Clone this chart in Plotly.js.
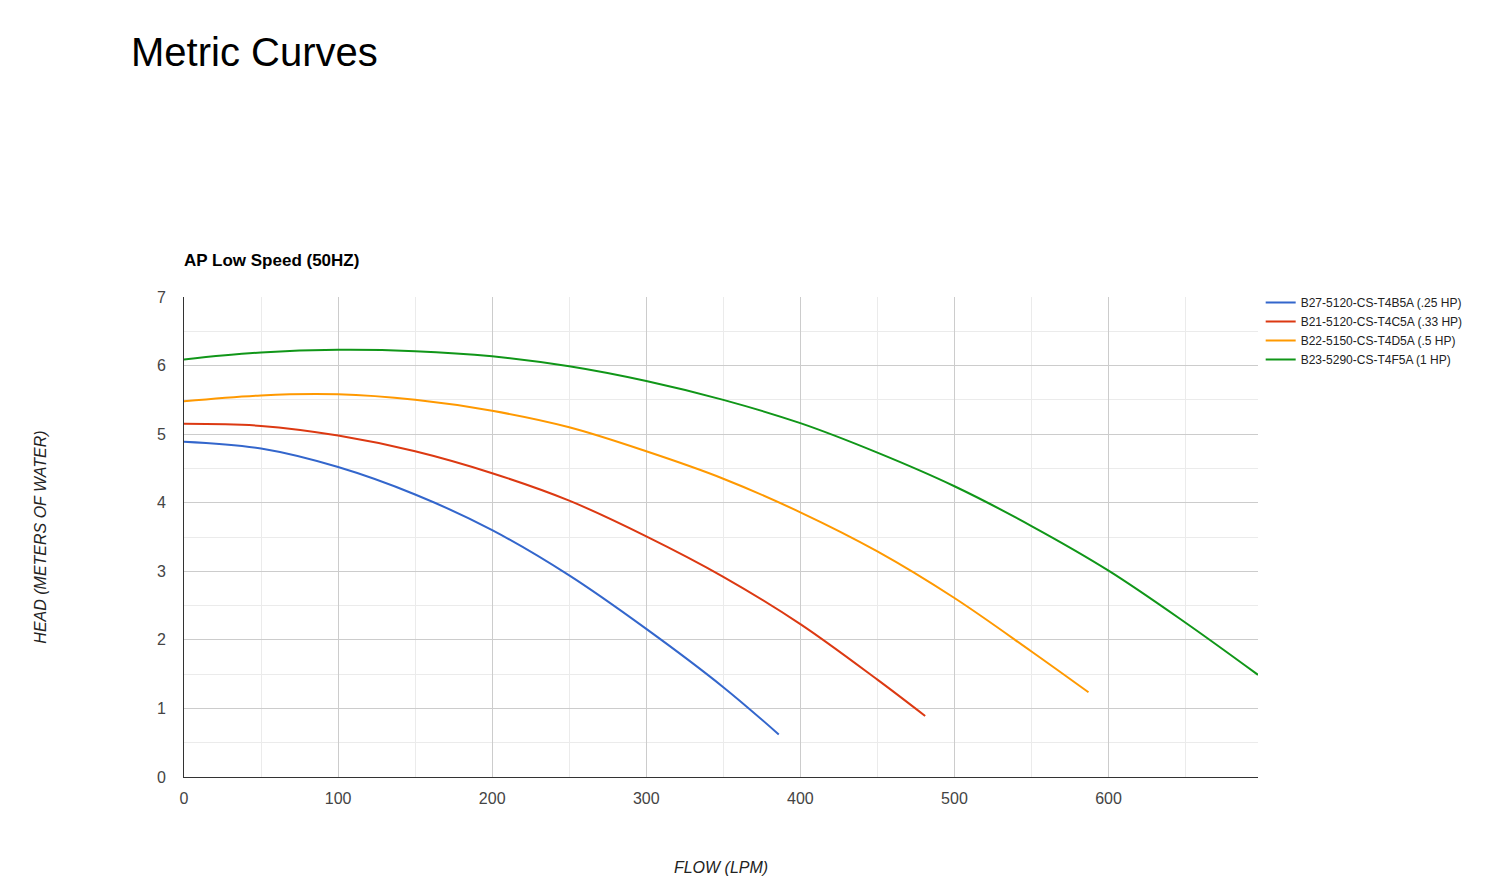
<!DOCTYPE html>
<html>
<head>
<meta charset="utf-8">
<script src="https://cdn.plot.ly/plotly-3.0.1.min.js"></script>
<style>html,body{margin:0;padding:0;background:#fff;}#chart{width:1492px;height:892px;}</style>
</head>
<body>
<div id="chart"></div>
<script>
const seriesNames = [
  "B27-5120-CS-T4B5A (.25 HP)",
  "B21-5120-CS-T4C5A (.33 HP)",
  "B22-5150-CS-T4D5A (.5 HP)",
  "B23-5290-CS-T4F5A (1 HP)"
];
const seriesColors = ["#3366cc", "#dc3912", "#ff9900", "#109618"];

const flowBlue   = [0, 50, 100, 150, 200, 250, 300, 350, 386];
const headBlue   = [4.89, 4.79, 4.52, 4.12, 3.60, 2.94, 2.16, 1.31, 0.62];

const flowRed    = [0, 50, 100, 150, 200, 250, 300, 350, 400, 450, 481];
const headRed    = [5.15, 5.12, 4.98, 4.75, 4.43, 4.03, 3.51, 2.92, 2.23, 1.42, 0.89];

const flowOrange = [0, 50, 100, 150, 200, 250, 300, 350, 400, 450, 500, 550, 587];
const headOrange = [5.48, 5.565, 5.58, 5.50, 5.34, 5.10, 4.75, 4.35, 3.86, 3.29, 2.61, 1.83, 1.235];

const flowGreen  = [0, 50, 100, 150, 200, 250, 300, 350, 400, 450, 500, 550, 600, 650, 697];
const headGreen  = [6.09, 6.19, 6.23, 6.21, 6.135, 5.99, 5.775, 5.50, 5.16, 4.73, 4.24, 3.66, 3.01, 2.25, 1.49];

const xTicks = [0, 100, 200, 300, 400, 500, 600];
const yTicks = [0, 1, 2, 3, 4, 5, 6, 7];

const flows = [flowBlue, flowRed, flowOrange, flowGreen];
const heads = [headBlue, headRed, headOrange, headGreen];

const FONT = "'Liberation Sans', Arial, sans-serif";

const traces = flows.map((f, i) => ({
  x: f, y: heads[i], name: seriesNames[i],
  type: "scatter", mode: "lines",
  line: {color: seriesColors[i], width: 2, shape: "spline", smoothing: 1},
  hoverinfo: "x+y+name"
}));

const layout = {
  width: 1492, height: 892,
  paper_bgcolor: "#ffffff", plot_bgcolor: "#ffffff",
  margin: {l: 184, r: 234, t: 297, b: 115, pad: 0},
  font: {family: FONT, color: "#222"},
  title: {
    text: "Metric Curves",
    font: {family: FONT, size: 40, color: "#000"},
    x: 131 / 1492, xref: "container", xanchor: "left",
    y: 1 - 52 / 892, yref: "container", yanchor: "middle"
  },
  showlegend: true,
  legend: {
    x: 1.0025, xanchor: "left", y: 1.019, yanchor: "top",
    font: {family: FONT, size: 12, color: "#222"},
    bgcolor: "rgba(0,0,0,0)", borderwidth: 0,
    tracegroupgap: 0, itemwidth: 30
  },
  xaxis: {
    range: [0, 697], autorange: false,
    tickvals: xTicks, ticktext: xTicks.map(String),
    showgrid: true, gridcolor: "#cccccc", gridwidth: 1,
    minor: {dtick: 50, showgrid: true, gridcolor: "#ebebeb", gridwidth: 1, tick0: 0},
    zeroline: false,
    showline: true, linecolor: "#333333", linewidth: 1,
    ticks: "", ticklabelstandoff: 7,
    tickfont: {family: FONT, size: 16, color: "#444"},
    title: {text: "FLOW (LPM)", standoff: 55, font: {family: FONT, size: 16, color: "#222", style: "italic"}}
  },
  yaxis: {
    range: [0, 7], autorange: false,
    tickvals: yTicks, ticktext: yTicks.map(String),
    showgrid: true, gridcolor: "#cccccc", gridwidth: 1,
    minor: {dtick: 0.5, showgrid: true, gridcolor: "#ebebeb", gridwidth: 1, tick0: 0},
    zeroline: false,
    showline: true, linecolor: "#333333", linewidth: 1,
    ticks: "", ticklabelstandoff: 14,
    tickfont: {family: FONT, size: 16, color: "#444"},
    title: {text: "HEAD (METERS OF WATER)", standoff: 106, font: {family: FONT, size: 16, color: "#222", style: "italic"}}
  },
  annotations: [{
    text: "<b>AP Low Speed (50HZ)</b>",
    xref: "paper", yref: "paper", x: 0, y: 1, xanchor: "left", yanchor: "bottom",
    xshift: -2, yshift: 25, showarrow: false,
    font: {family: FONT, size: 17, color: "#000"}
  }]
};

Plotly.newPlot("chart", traces, layout, {displayModeBar: false});
</script>
</body>
</html>
